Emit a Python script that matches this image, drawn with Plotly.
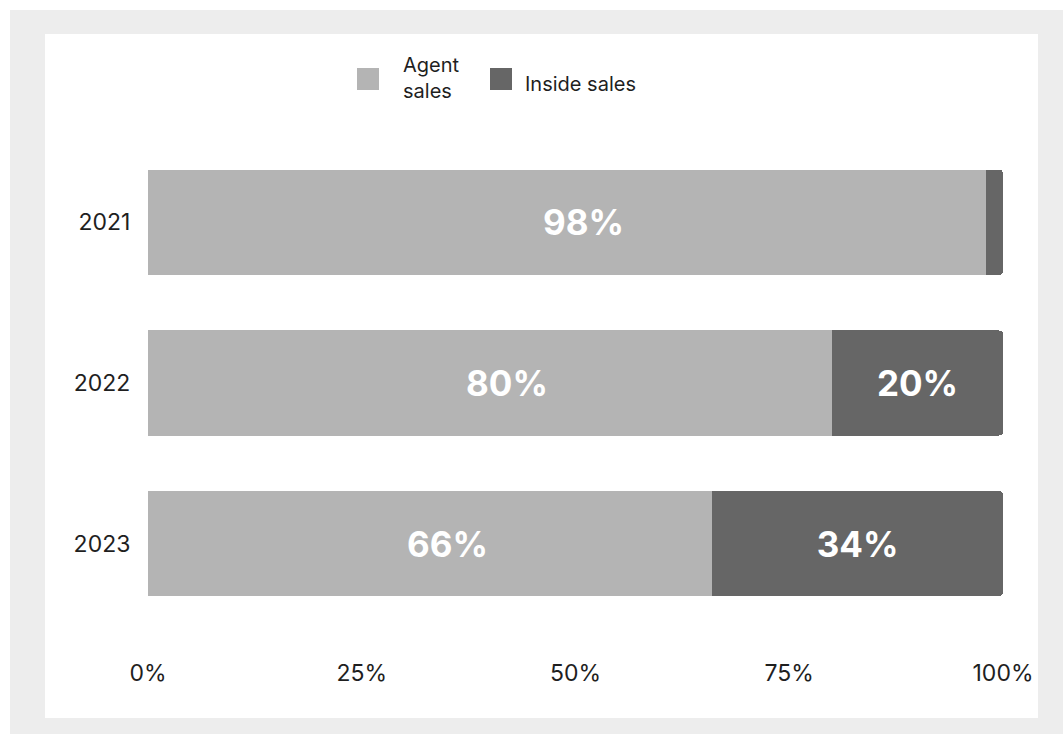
import plotly.graph_objects as go

# Share of sales by channel, per year (percent)
years = ["2021", "2022", "2023"]
agent_sales = [98, 80, 66]
inside_sales = [2, 20, 34]
agent_labels = ["98%", "80%", "66%"]
inside_labels = ["", "20%", "34%"]
x_ticks = [0, 25, 50, 75, 100]
x_tick_text = ["0%", "25%", "50%", "75%", "100%"]

W, H = 1063, 734
M_L, M_R, M_T, M_B = 148, 60, 142, 110
PW, PH = W - M_L - M_R, H - M_T - M_B

def px(x):
    return (x - M_L) / PW

def py(y):
    return (H - M_B - y) / PH

FONT = "Inter"
AGENT_COLOR = "#b4b4b4"
INSIDE_COLOR = "#666666"
TEXT_COLOR = "#1f1f1f"
LABEL_FONT = dict(family=FONT, size=35, color="white", weight="bold")

fig = go.Figure()
fig.add_trace(go.Bar(
    y=years, x=agent_sales, orientation="h", name="Agent sales",
    marker=dict(color=AGENT_COLOR, line=dict(width=0)),
    hoverinfo="skip", showlegend=False,
))
fig.add_trace(go.Bar(
    y=years, x=inside_sales, orientation="h", name="Inside sales",
    marker=dict(color=INSIDE_COLOR, line=dict(width=0)),
    text=inside_labels, textposition="inside", insidetextanchor="middle",
    textfont=LABEL_FONT,
    hoverinfo="skip", showlegend=False,
))

# value labels for the agent segments, set slightly right of the segment middle
# (y given as the category index on the category axis)
annotations = [
    dict(x=v / 2, y=i, xref="x", yref="y", text=lbl, showarrow=False,
         xshift=17, font=LABEL_FONT, xanchor="center", yanchor="middle")
    for i, (v, lbl) in enumerate(zip(agent_sales, agent_labels))
]

shapes = [
    # grey frame and white card
    dict(type="rect", xref="paper", yref="paper", layer="below",
         x0=px(10), x1=px(W), y0=py(10), y1=py(H),
         fillcolor="#ededed", line=dict(width=0)),
    dict(type="rect", xref="paper", yref="paper", layer="below",
         x0=px(45), x1=px(1038), y0=py(34), y1=py(718),
         fillcolor="white", line=dict(width=0)),
    # legend swatches
    dict(type="rect", xref="paper", yref="paper",
         x0=px(357), x1=px(379), y0=py(68), y1=py(90),
         fillcolor=AGENT_COLOR, line=dict(width=0)),
    dict(type="rect", xref="paper", yref="paper",
         x0=px(490), x1=px(512), y0=py(68), y1=py(90),
         fillcolor=INSIDE_COLOR, line=dict(width=0)),
]

annotations += [
    dict(xref="paper", yref="paper", x=px(401), y=py(78), text="Agent<br>sales",
         showarrow=False, xanchor="left", yanchor="middle", align="left",
         font=dict(family=FONT, size=20, color=TEXT_COLOR)),
    dict(xref="paper", yref="paper", x=px(523), y=py(84), text="Inside sales",
         showarrow=False, xanchor="left", yanchor="middle",
         font=dict(family=FONT, size=20, color=TEXT_COLOR)),
]

fig.update_layout(
    width=W, height=H,
    margin=dict(l=M_L, r=M_R, t=M_T, b=M_B, pad=0),
    paper_bgcolor="white", plot_bgcolor="rgba(0,0,0,0)",
    barmode="stack", bargap=0.346, barcornerradius=4,
    shapes=shapes, annotations=annotations,
    showlegend=False,
    font=dict(family=FONT, color=TEXT_COLOR),
    uniformtext=dict(minsize=10, mode="show"),
)
fig.update_xaxes(
    range=[0, 100], tickvals=x_ticks, ticktext=x_tick_text,
    showgrid=False, zeroline=False, showline=False,
    ticks="outside", ticklen=28, tickcolor="rgba(0,0,0,0)",
    tickfont=dict(family=FONT, size=23, color=TEXT_COLOR),
    fixedrange=True,
)
fig.update_yaxes(
    type="category", range=[2.5, -0.5],
    showgrid=False, zeroline=False, showline=False,
    ticks="outside", ticklen=12, tickcolor="rgba(0,0,0,0)",
    tickfont=dict(family=FONT, size=23, color=TEXT_COLOR),
    fixedrange=True,
)

fig.write_html("out.html")
